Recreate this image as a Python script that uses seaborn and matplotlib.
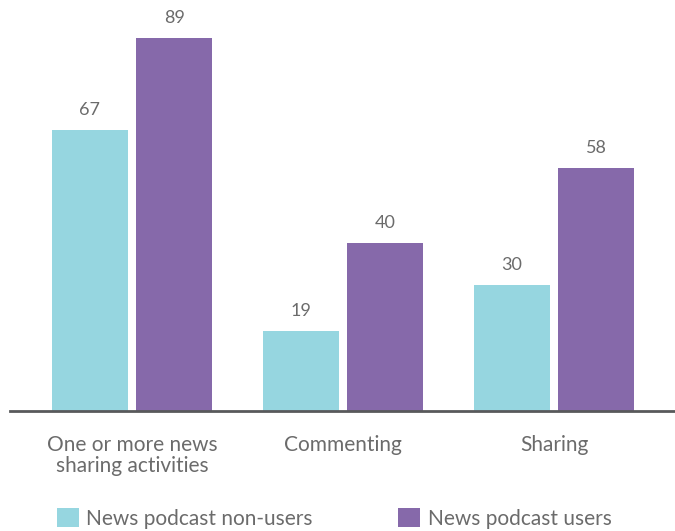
import matplotlib
matplotlib.use("Agg")
import matplotlib.pyplot as plt
from matplotlib.patches import Patch
import seaborn as sns
import pandas as pd

categories = ["One or more news\nsharing activities", "Commenting", "Sharing"]
series_names = ["News podcast non-users", "News podcast users"]
non_users = [67, 19, 30]
users = [89, 40, 58]

colors = ["#96D6E0", "#8669AA"]
text_color = "#6b6b6b"

df = pd.DataFrame({
    "category": categories * 2,
    "group": [series_names[0]] * 3 + [series_names[1]] * 3,
    "value": non_users + users,
})

sns.set_theme(style="white")
plt.rcParams["font.family"] = ["Lato", "DejaVu Sans"]

fig = plt.figure(figsize=(6.75, 5.31), dpi=100)
ax = fig.add_axes([10 / 675, 120 / 531, 665 / 675, 398 / 531])

sns.barplot(data=df, x="category", y="value", hue="group",
            palette=colors, width=0.8, gap=0.1, saturation=1,
            linewidth=0, legend=False, ax=ax)

for container in ax.containers:
    ax.bar_label(container, fmt="%d", padding=9, fontsize=13, color=text_color)

ax.set_xlim(-0.578, 2.573)
ax.set_ylim(0, 95)
ax.set_xlabel("")
ax.set_ylabel("")
ax.set_yticks([])
ax.tick_params(axis="x", length=0, pad=17, labelsize=15, labelcolor=text_color)
for lbl in ax.get_xticklabels():
    lbl.set_linespacing(1.1)
for side in ["top", "right", "left"]:
    ax.spines[side].set_visible(False)
ax.spines["bottom"].set_color("#58595b")
ax.spines["bottom"].set_linewidth(2)

handles = [Patch(facecolor=c, edgecolor="none") for c in colors]
fig.legend(handles, series_names, loc="center", bbox_to_anchor=(0.495, 0.024),
           ncol=2, frameon=False, fontsize=15, labelcolor=text_color,
           handlelength=1.06, handleheight=1.06, handletextpad=0.35,
           columnspacing=4.1)

fig.savefig("out.png", dpi=100)
